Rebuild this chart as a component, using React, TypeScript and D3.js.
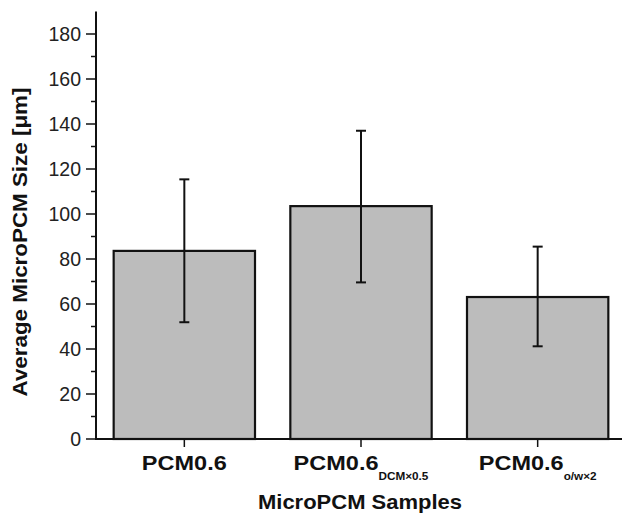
import React, { useEffect, useRef } from 'react';
import * as d3 from 'd3';

// sample names (base + subscript)
const samples = ['PCM0.6', 'PCM0.6', 'PCM0.6'];
const subscripts = ['', 'DCM×0.5', 'o/w×2'];
const meanSize = [83.6, 103.5, 63.1];
const errUpper = [115.4, 137.0, 85.5];
const errLower = [51.9, 69.6, 41.2];
const yTicks = [0, 20, 40, 60, 80, 100, 120, 140, 160, 180];

const W = 622;
const H = 515;
const font = 'Arial, "Liberation Sans", sans-serif';

export default function App() {
  const ref = useRef<SVGSVGElement | null>(null);

  useEffect(() => {
    const svg = d3.select(ref.current);
    svg.selectAll('*').remove();

    const x = d3
      .scaleBand()
      .domain(d3.range(samples.length).map(String))
      .range([96, 626])
      .paddingInner(0.2)
      .paddingOuter(0.1);

    const y = d3.scaleLinear().domain([0, 190]).range([439, 11.5]);

    svg.append('rect').attr('width', W).attr('height', H).attr('fill', '#fff');

    // bars
    svg
      .selectAll('rect.bar')
      .data(meanSize)
      .enter()
      .append('rect')
      .attr('class', 'bar')
      .attr('x', (_, i) => x(String(i))!)
      .attr('width', x.bandwidth())
      .attr('y', (d) => y(d))
      .attr('height', (d) => y(0) - y(d))
      .attr('fill', '#bcbcbc')
      .attr('stroke', '#111')
      .attr('stroke-width', 2.2);

    // error bars
    const eb = svg
      .selectAll('g.err')
      .data(meanSize)
      .enter()
      .append('g')
      .attr('class', 'err')
      .attr('stroke', '#111')
      .attr('stroke-width', 2);
    const cx = (i: number) => x(String(i))! + x.bandwidth() / 2;
    eb.append('line')
      .attr('x1', (_, i) => cx(i))
      .attr('x2', (_, i) => cx(i))
      .attr('y1', (_, i) => y(errUpper[i]))
      .attr('y2', (_, i) => y(errLower[i]));
    eb.append('line')
      .attr('x1', (_, i) => cx(i) - 5)
      .attr('x2', (_, i) => cx(i) + 5)
      .attr('y1', (_, i) => y(errUpper[i]))
      .attr('y2', (_, i) => y(errUpper[i]));
    eb.append('line')
      .attr('x1', (_, i) => cx(i) - 5)
      .attr('x2', (_, i) => cx(i) + 5)
      .attr('y1', (_, i) => y(errLower[i]))
      .attr('y2', (_, i) => y(errLower[i]));

    // y axis
    const yAxis = svg.append('g').attr('transform', 'translate(96,0)');
    yAxis
      .append('line')
      .attr('x1', 0)
      .attr('x2', 0)
      .attr('y1', y(190))
      .attr('y2', y(0) + 1)
      .attr('stroke', '#111')
      .attr('stroke-width', 2);
    const minor = d3.range(10, 190, 20);
    yAxis
      .selectAll('line.minor')
      .data(minor)
      .enter()
      .append('line')
      .attr('x1', -5)
      .attr('x2', 0)
      .attr('y1', (d) => y(d))
      .attr('y2', (d) => y(d))
      .attr('stroke', '#111')
      .attr('stroke-width', 1.5);
    yAxis
      .selectAll('line.major')
      .data(yTicks)
      .enter()
      .append('line')
      .attr('x1', -10)
      .attr('x2', 0)
      .attr('y1', (d) => y(d))
      .attr('y2', (d) => y(d))
      .attr('stroke', '#111')
      .attr('stroke-width', 1.5);
    yAxis
      .selectAll('text')
      .data(yTicks)
      .enter()
      .append('text')
      .attr('x', -15)
      .attr('y', (d) => y(d))
      .attr('dy', '0.36em')
      .attr('text-anchor', 'end')
      .attr('font-family', font)
      .attr('font-size', 19.5)
      .attr('fill', '#222')
      .text((d) => d);

    // x axis
    svg
      .append('line')
      .attr('x1', 95)
      .attr('x2', 626)
      .attr('y1', y(0))
      .attr('y2', y(0))
      .attr('stroke', '#111')
      .attr('stroke-width', 2);
    svg
      .selectAll('line.xt')
      .data(samples)
      .enter()
      .append('line')
      .attr('x1', (_, i) => cx(i))
      .attr('x2', (_, i) => cx(i))
      .attr('y1', y(0))
      .attr('y2', y(0) + 8)
      .attr('stroke', '#111')
      .attr('stroke-width', 1.5);

    const labels = svg
      .selectAll('text.xl')
      .data(samples)
      .enter()
      .append('text')
      .attr('class', 'xl')
      .attr('transform', (_, i) => `translate(${cx(i)},470) scale(1.12,1)`)
      .attr('text-anchor', 'middle')
      .attr('font-family', font)
      .attr('font-weight', 'bold')
      .attr('font-size', 21)
      .attr('fill', '#111');
    labels.append('tspan').text((d) => d);
    labels
      .append('tspan')
      .attr('dy', 10)
      .attr('font-size', 10.5)
      .text((_, i) => subscripts[i]);

    // axis titles
    svg
      .append('text')
      .attr('transform', 'translate(360,509) scale(1.1,1)')
      .attr('text-anchor', 'middle')
      .attr('font-family', font)
      .attr('font-weight', 'bold')
      .attr('font-size', 20)
      .attr('fill', '#111')
      .text('MicroPCM Samples');

    svg
      .append('text')
      .attr('transform', 'translate(27,242) rotate(-90) scale(1.12,1)')
      .attr('text-anchor', 'middle')
      .attr('font-family', font)
      .attr('font-weight', 'bold')
      .attr('font-size', 20)
      .attr('fill', '#111')
      .text('Average MicroPCM Size [μm]');
  }, []);

  return (
    <svg
      ref={ref}
      width={W}
      height={H}
      style={{ position: 'absolute', left: 0, top: 0, display: 'block' }}
    />
  );
}
